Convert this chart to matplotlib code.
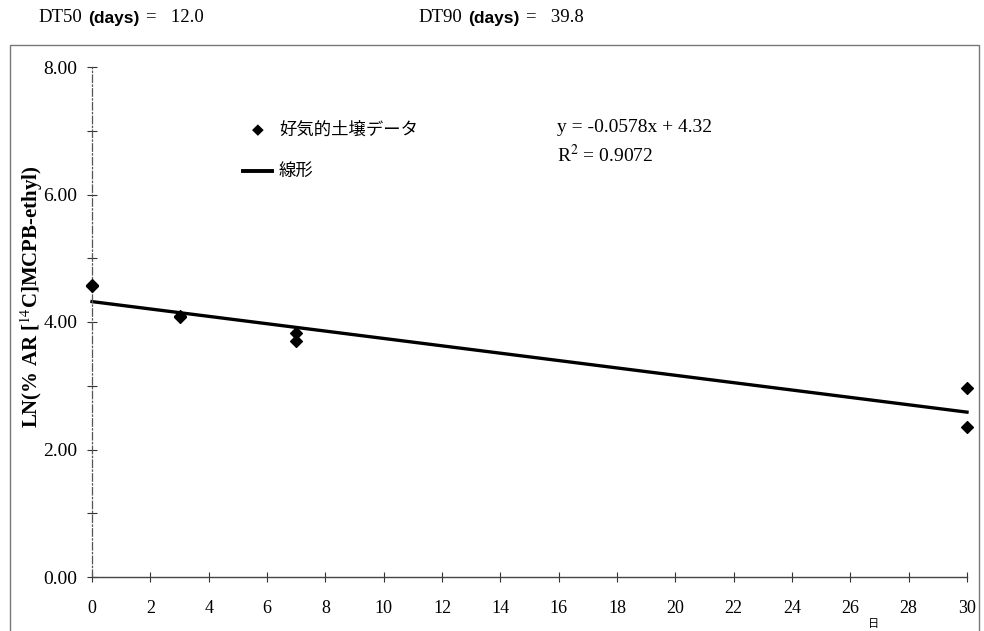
import numpy as np
import matplotlib.pyplot as plt
from matplotlib.patches import Rectangle

# sampling days and LN(% applied radioactivity)
days = [0, 0, 3, 3, 7, 7, 30, 30]
ln_ar = [4.58, 4.56, 4.08, 4.10, 3.83, 3.70, 2.96, 2.35]

slope = -0.0578
intercept = 4.32
r2 = 0.9072
dt50 = 12.0
dt90 = 39.8

x_ticks = list(range(0, 31, 2))
y_ticks = [0, 2, 4, 6, 8]

serif = ['Liberation Serif', 'DejaVu Serif']
sans = ['Liberation Sans', 'DejaVu Sans']
cjk = ['Noto Sans CJK JP', 'DejaVu Sans']

plt.rcParams['mathtext.fontset'] = 'stix'

W, H = 984, 631


def fx(px):
    return px / W


def fy(py):
    return 1 - py / H


fig = plt.figure(figsize=(9.84, 6.31), dpi=100, facecolor='white')
ax = fig.add_axes([fx(92), fy(577), fx(967) - fx(92), fy(67) - fy(577)])

ax.scatter(days, ln_ar, marker='D', s=36, color='black', zorder=3, clip_on=False)
xf = np.array([0, 30])
ax.plot(xf, slope * xf + intercept, color='black', lw=2.4, zorder=2, clip_on=False)

ax.set_xlim(0, 30)
ax.set_ylim(0, 8)
ax.set_xticks(x_ticks)
ax.set_xticklabels([str(t) for t in x_ticks], fontfamily=serif, fontsize=13)
ax.set_yticks(y_ticks)
ax.set_yticklabels([f'{t:.2f}' for t in y_ticks], fontfamily=serif, fontsize=14)
ax.set_yticks([1, 3, 5, 7], minor=True)
ax.tick_params(axis='both', which='both', direction='inout', length=7, width=0.8, color='#333333')
ax.tick_params(axis='x', pad=13)
ax.tick_params(axis='y', pad=7)
for s in ['top', 'right']:
    ax.spines[s].set_visible(False)
ax.spines['left'].set_color('#555555')
ax.spines['left'].set_linestyle((0, (6, 2, 1, 2)))
ax.spines['left'].set_linewidth(0.9)
ax.spines['bottom'].set_color('#444444')
ax.spines['bottom'].set_linewidth(1.0)

ax.set_ylabel('LN(% AR [$^{14}$C]MCPB-ethyl)', fontfamily=serif, fontweight='bold',
              fontsize=15, labelpad=10)
ax.yaxis.set_label_coords((45 - 92) / 875, (577 - 297) / 510)

# legend entries
fig.text(fx(258), fy(130), '\u25c6', fontsize=11, ha='center', va='center',
         family=['DejaVu Sans'])
fig.text(fx(279), fy(130), '好気的土壌データ', fontsize=12.5, va='center', family=cjk)
fig.add_artist(plt.Line2D([fx(243), fx(272)], [fy(171)] * 2, color='black', lw=2.8))
fig.text(fx(279), fy(171), '線形', fontsize=12.5, va='center', family=cjk)

# regression summary
fig.text(fx(557), fy(127), f'y = {slope}x + {intercept}', fontsize=14,
         va='center', family=serif)
fig.text(fx(557), fy(155), f'R$^2$ = {r2}', fontsize=14, va='center', family=serif)

# half-life header
for x0, name, val in [(38, 'DT50', dt50), (418, 'DT90', dt90)]:
    fig.text(fx(x0), fy(18), name, fontsize=13.5, va='center', family=serif)
    fig.text(fx(x0 + 50), fy(18), '(days)', fontsize=12.5, va='center', family=sans,
             fontweight='bold')
    fig.text(fx(x0 + 108), fy(18), f'=   {val}', fontsize=13.5, va='center', family=serif)

fig.text(fx(874), fy(624), '日', fontsize=8, ha='center', va='center', family=cjk)

# outer frame
fig.add_artist(Rectangle((fx(10), -0.01), fx(979) - fx(10), fy(45) + 0.01,
                         transform=fig.transFigure, fill=False, edgecolor='#777777', lw=1.0))

fig.savefig('out.png', dpi=100, facecolor='white')
